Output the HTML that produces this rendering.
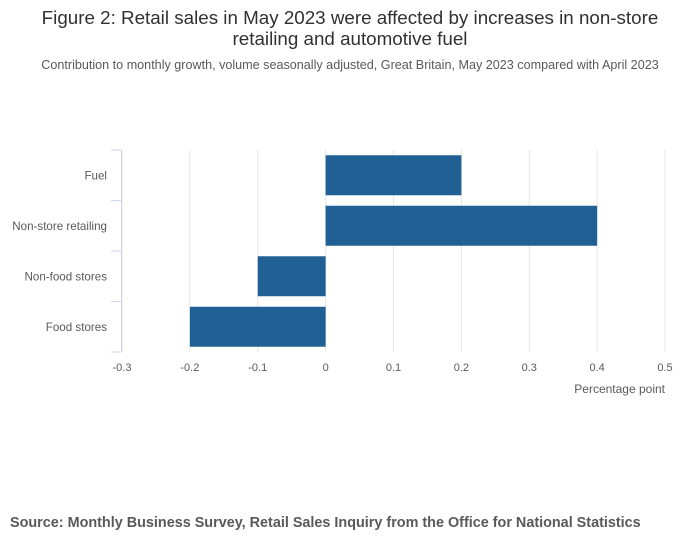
<!DOCTYPE html>
<html><head><meta charset="utf-8"><style>
body{margin:0;background:#fff;font-family:"Liberation Sans",sans-serif;}
svg text{font-family:"Liberation Sans",sans-serif;}
</style></head><body>
<svg width="700" height="549">
<text x="350" y="24" text-anchor="middle" font-size="18.8" fill="#323132">Figure 2: Retail sales in May 2023 were affected by increases in non-store</text>
<text x="350" y="45" text-anchor="middle" font-size="18.8" fill="#323132">retailing and automotive fuel</text>
<text x="350" y="69" text-anchor="middle" font-size="12.6" fill="#595959">Contribution to monthly growth, volume seasonally adjusted, Great Britain, May 2023 compared with April 2023</text>
<g id="grid"></g><g id="bars"></g><g id="axes"></g>
<text x="665" y="393" text-anchor="end" font-size="12" fill="#595959">Percentage point</text>
<text x="10" y="527" font-size="14.4" font-weight="bold" fill="#595959">Source: Monthly Business Survey, Retail Sales Inquiry from the Office for National Statistics</text>
</svg>
<script>
const categories=["Fuel","Non-store retailing","Non-food stores","Food stores"];
const values=[0.2,0.4,-0.1,-0.2];
const ticks=[-0.3,-0.2,-0.1,0,0.1,0.2,0.3,0.4,0.5];
const tickLabels=["-0.3","-0.2","-0.1","0","0.1","0.2","0.3","0.4","0.5"];
const NS="http://www.w3.org/2000/svg";
const x0=122,x1=665,plotTop=150,plotBot=352,xmin=-0.3,xmax=0.5;
const xs=v=>x0+(v-xmin)/(xmax-xmin)*(x1-x0);
const band=(plotBot-plotTop)/categories.length;
function mk(t,a,p){const e=document.createElementNS(NS,t);for(const k in a)e.setAttribute(k,a[k]);document.getElementById(p).appendChild(e);return e;}
ticks.forEach((t,i)=>{
 const g=mk("line",{x1:xs(t),x2:xs(t),y1:plotTop,y2:plotBot,stroke:"#e6e6e6","stroke-width":1},"grid");
 
 
 const l=mk("text",{x:xs(t),y:371,"text-anchor":"middle","font-size":11,fill:"#595959"},"axes");
 l.textContent=tickLabels[i];
 
 
});
const ax=mk("line",{x1:121.5,x2:121.5,y1:plotTop,y2:plotBot,stroke:"#ccd6eb"},"axes");


for(let i=0;i<=categories.length;i++){
 const tk=mk("line",{x1:111,x2:121.5,y1:plotTop+i*band,y2:plotTop+i*band,stroke:"#ccd6eb"},"axes");
 
 
}
categories.forEach((c,i)=>{
 const cy=plotTop+band*(i+0.5);
 const v=values[i];
 const r=mk("rect",{x:Math.min(xs(0),xs(v)),y:cy-20,width:Math.abs(xs(v)-xs(0)),height:40,fill:"#206095"},"bars");
 
 
 const l=mk("text",{x:107,y:cy+4,"text-anchor":"end","font-size":11.6,fill:"#595959"},"axes");
 l.textContent=c;
 
 
});
</script>
</body></html>
